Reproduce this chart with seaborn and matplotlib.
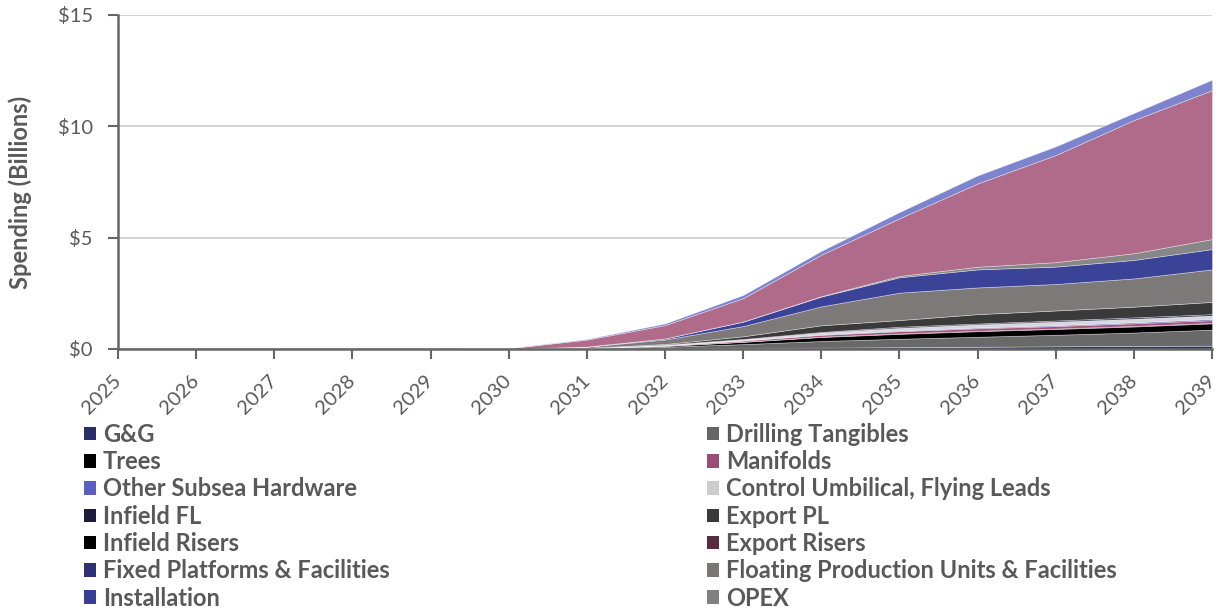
import matplotlib
matplotlib.use("Agg")
import matplotlib.pyplot as plt
import seaborn as sns
from matplotlib.patches import Patch
from matplotlib.ticker import FuncFormatter, MultipleLocator

# Annual spending by category, $ billions
years = list(range(2025, 2040))

gg = [0, 0, 0, 0, 0, 0, 0.01, 0.02, 0.04, 0.06, 0.08, 0.10, 0.12, 0.14, 0.15]
drilling_tangibles = [0, 0, 0, 0, 0, 0.005, 0.02, 0.08, 0.18, 0.30, 0.38, 0.45, 0.52, 0.60, 0.72]
trees = [0, 0, 0, 0, 0, 0, 0.01, 0.04, 0.10, 0.18, 0.22, 0.25, 0.26, 0.27, 0.28]
manifolds = [0, 0, 0, 0, 0, 0.03, 0.31, 0.60, 1.05, 1.86, 2.59, 3.74, 4.81, 5.98, 6.69]
other_subsea = [0, 0, 0, 0, 0, 0.005, 0.03, 0.07, 0.14, 0.17, 0.28, 0.36, 0.39, 0.32, 0.47]
control_umbilical = [0, 0, 0, 0, 0, 0, 0.005, 0.02, 0.05, 0.09, 0.12, 0.14, 0.16, 0.16, 0.16]
infield_fl = [0, 0, 0, 0, 0, 0, 0, 0.005, 0.01, 0.02, 0.05, 0.04, 0.05, 0.06, 0.06]
export_pl = [0, 0, 0, 0, 0, 0, 0.005, 0.03, 0.12, 0.30, 0.30, 0.42, 0.45, 0.48, 0.55]
infield_risers = [0, 0, 0, 0, 0, 0, 0, 0.005, 0.01, 0.015, 0.02, 0.02, 0.02, 0.025, 0.025]
export_risers = [0, 0, 0, 0, 0, 0, 0.005, 0.02, 0.05, 0.08, 0.10, 0.11, 0.11, 0.12, 0.12]
fixed_platforms = [0, 0, 0, 0, 0, 0, 0, 0.005, 0.01, 0.02, 0.03, 0.035, 0.04, 0.045, 0.05]
floating_production = [0, 0, 0, 0, 0, 0, 0.05, 0.20, 0.46, 0.85, 1.23, 1.20, 1.19, 1.27, 1.46]
installation = [0, 0, 0, 0, 0, 0, 0.005, 0.05, 0.20, 0.44, 0.69, 0.81, 0.78, 0.83, 0.91]
opex = [0, 0, 0, 0, 0, 0, 0, 0, 0.005, 0.02, 0.06, 0.12, 0.20, 0.30, 0.45]

series = {
    "G&G": gg,
    "Drilling Tangibles": drilling_tangibles,
    "Trees": trees,
    "Manifolds": manifolds,
    "Other Subsea Hardware": other_subsea,
    "Control Umbilical, Flying Leads": control_umbilical,
    "Infield FL": infield_fl,
    "Export PL": export_pl,
    "Infield Risers": infield_risers,
    "Export Risers": export_risers,
    "Fixed Platforms & Facilities": fixed_platforms,
    "Floating Production Units & Facilities": floating_production,
    "Installation": installation,
    "OPEX": opex,
}

# Layer order from the baseline upward
stack_order = [
    "G&G", "Drilling Tangibles", "Trees", "Infield Risers", "Export Risers",
    "Fixed Platforms & Facilities", "Control Umbilical, Flying Leads", "Infield FL",
    "Export PL", "Floating Production Units & Facilities", "Installation", "OPEX",
    "Manifolds", "Other Subsea Hardware",
]

area_colors = {
    "G&G": "#2E3278",
    "Drilling Tangibles": "#696969",
    "Trees": "#000000",
    "Manifolds": "#B06A8A",
    "Other Subsea Hardware": "#7D84CE",
    "Control Umbilical, Flying Leads": "#D8D8DC",
    "Infield FL": "#20204A",
    "Export PL": "#3A3A3A",
    "Infield Risers": "#050505",
    "Export Risers": "#A8527E",
    "Fixed Platforms & Facilities": "#5058B8",
    "Floating Production Units & Facilities": "#7D7979",
    "Installation": "#3B4399",
    "OPEX": "#878787",
}

swatch_colors = {
    "G&G": "#2B2D6A",
    "Drilling Tangibles": "#666666",
    "Trees": "#000000",
    "Manifolds": "#9A4D75",
    "Other Subsea Hardware": "#5A60C0",
    "Control Umbilical, Flying Leads": "#CCCCCC",
    "Infield FL": "#1C1C3C",
    "Export PL": "#3A3A3A",
    "Infield Risers": "#000000",
    "Export Risers": "#5A2A42",
    "Fixed Platforms & Facilities": "#2E3178",
    "Floating Production Units & Facilities": "#7A7676",
    "Installation": "#3A3F96",
    "OPEX": "#808080",
}

sns.set_theme(style="white")
plt.rcParams["font.family"] = ["Lato", "DejaVu Sans"]

axis_gray = "#666666"
text_gray = "#595959"

fig = plt.figure(figsize=(12.23, 6.10), dpi=100)
ax = fig.add_axes([118 / 1223, 1 - 349 / 610, (1212 - 118) / 1223, (349 - 15) / 610])

ax.stackplot(
    years,
    *[series[name] for name in stack_order],
    colors=[area_colors[name] for name in stack_order],
    edgecolor=(1, 1, 1, 0.45),
    linewidth=0.5,
)

ax.set_xlim(2025, 2039)
ax.set_ylim(0, 15)
ax.set_xticks(years)
ax.set_xticklabels([str(y) for y in years], rotation=45, ha="right", va="center",
                   rotation_mode="anchor")
ax.yaxis.set_major_locator(MultipleLocator(5))
ax.yaxis.set_major_formatter(FuncFormatter(lambda v, _: f"${v:.0f}"))

ax.set_axisbelow(True)
ax.yaxis.grid(True, color="#D0D0D0", linewidth=1.3)
ax.xaxis.grid(False)

for side in ("top", "right"):
    ax.spines[side].set_visible(False)
for side in ("left", "bottom"):
    ax.spines[side].set_color(axis_gray)
    ax.spines[side].set_linewidth(1.8)

ax.tick_params(axis="both", which="major", direction="out", length=7, width=1.5,
               color=axis_gray, labelcolor=text_gray, labelsize=14.5)
ax.tick_params(axis="x", pad=14, bottom=True)
ax.tick_params(axis="y", pad=11, left=True)

ax.set_ylabel("Spending (Billions)", fontsize=17, fontweight="bold", color=text_gray)
ax.yaxis.set_label_coords(-0.079, 0.47)

# Legend laid out in two columns, read row by row
legend_order = list(series.keys())
columns = [legend_order[0::2], legend_order[1::2]]
column_x = [84 / 1223, 707 / 1223]
for names, x0 in zip(columns, column_x):
    fig.legend(
        handles=[Patch(facecolor=swatch_colors[n], edgecolor="none") for n in names],
        labels=names,
        loc="upper left",
        bbox_to_anchor=(x0, 1 - 423 / 610),
        frameon=False,
        prop={"weight": "bold", "size": 17},
        labelcolor=text_gray,
        handlelength=0.5,
        handleheight=0.5,
        handletextpad=0.3,
        labelspacing=0.18,
        borderaxespad=0,
        borderpad=0,
    )

fig.savefig("out.png", dpi=100)
